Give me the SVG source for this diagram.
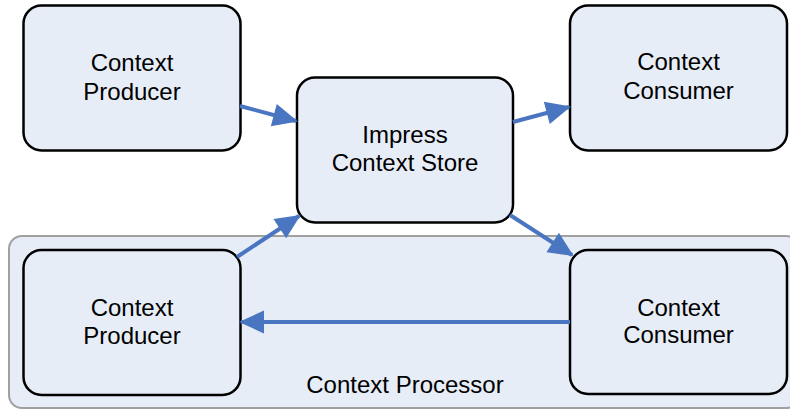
<svg xmlns="http://www.w3.org/2000/svg" width="790" height="409" viewBox="0 0 790 409">
<style>
.node{fill:#e7edf7;stroke:#000;stroke-width:2.5}
.grp{fill:#e7edf7;stroke:#a0a0a0;stroke-width:2}
.lbl{font-family:"Liberation Sans",Arial,sans-serif;font-size:24px;fill:#000;text-anchor:middle}
.edge{stroke:#4a76c1;stroke-width:4;fill:none;marker-end:url(#ah)}
</style>
<defs>
<marker id="ah" markerUnits="userSpaceOnUse" markerWidth="25" markerHeight="23" refX="23" refY="11.5" orient="auto" overflow="visible">
<path d="M0,0 L25,11.5 L0,23 z" fill="#4a76c1"/>
</marker>
</defs>
<g id="processor">
<rect class="grp" x="9" y="236" width="790" height="172" rx="13"/>
<text class="lbl" x="405" y="393">Context Processor</text>
</g>
<g id="producer-top">
<rect class="node" x="23.5" y="5.5" width="217" height="145" rx="18"/>
<text class="lbl" x="132" y="71">Context</text>
<text class="lbl" x="132" y="100">Producer</text>
</g>
<g id="store">
<rect class="node" x="297" y="77.5" width="216" height="145" rx="18"/>
<text class="lbl" x="405" y="143">Impress</text>
<text class="lbl" x="405" y="171">Context Store</text>
</g>
<g id="consumer-top">
<rect class="node" x="570" y="5.5" width="217" height="145" rx="18"/>
<text class="lbl" x="678.5" y="70">Context</text>
<text class="lbl" x="678.5" y="99">Consumer</text>
</g>
<g id="producer-bottom">
<rect class="node" x="23.5" y="250" width="217" height="145" rx="18"/>
<text class="lbl" x="132" y="316">Context</text>
<text class="lbl" x="132" y="344">Producer</text>
</g>
<g id="consumer-bottom">
<rect class="node" x="570" y="250" width="217" height="144" rx="18"/>
<text class="lbl" x="678.5" y="316">Context</text>
<text class="lbl" x="678.5" y="343">Consumer</text>
</g>
<g id="connectors">
<line class="edge" x1="240" y1="106" x2="296" y2="121"/>
<line class="edge" x1="513" y1="122" x2="569" y2="107"/>
<line class="edge" x1="510" y1="215" x2="572" y2="255"/>
<line class="edge" x1="237" y1="257" x2="299" y2="216"/>
<line class="edge" x1="570" y1="322" x2="241" y2="322"/>
</g>
</svg>
